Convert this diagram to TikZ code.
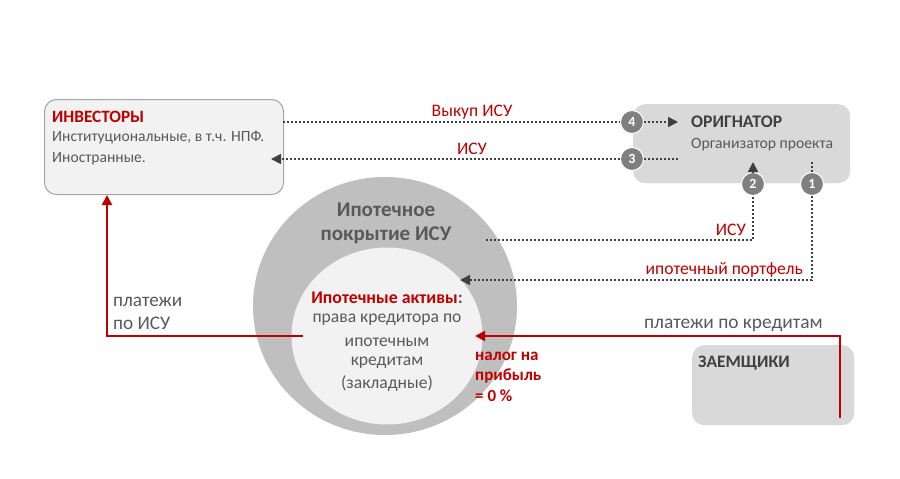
\documentclass[tikz,border=0pt]{standalone}
\usepackage{fontspec}
\setmainfont{Carlito}
\usetikzlibrary{arrows.meta,shapes.geometric}
\definecolor{myred}{HTML}{C00000}
\definecolor{dk}{HTML}{404040}
\definecolor{md}{HTML}{595959}
\definecolor{outerc}{HTML}{BFBFBF}
\definecolor{innerc}{HTML}{F2F2F2}
\definecolor{boxg}{HTML}{D9D9D9}
\definecolor{badgec}{HTML}{7F7F7F}
\newcommand{\fs}[1]{\fontsize{#1}{#1}\selectfont}
\begin{document}
\begin{tikzpicture}[x=1pt,y=-1pt,
  dots/.style={draw=dk,line width=1.6pt,dash pattern=on 2pt off 2pt},
  dtip/.style={-{Triangle[length=10pt,width=10pt]}},
  redl/.style={draw=myred,line width=2pt},
  rtip/.style={-{Triangle[length=10pt,width=10pt]}},
  badge/.style={circle,fill=badgec,draw=white,line width=1pt,minimum size=23pt,inner sep=0pt,text=white,font=\fs{14}\bfseries},
  tx/.style={inner sep=0pt,font=\fs{17.6}},
  txl/.style={tx,anchor=west},
]
\useasboundingbox[fill=white] (0,0) rectangle (900,479);

% boxes
\node[draw=black!35,fill=innerc,rounded corners=12pt,line width=1pt,minimum width=239pt,minimum height=95pt,anchor=north west,inner sep=0pt] (inv) at (44,99) {};
\node[fill=boxg,rounded corners=12pt,minimum width=217pt,minimum height=79pt,anchor=north west,inner sep=0pt] (orig) at (633,104) {};
\node[fill=boxg,rounded corners=12pt,minimum width=162pt,minimum height=80pt,anchor=north west,inner sep=0pt] (zaem) at (692,345) {};

% circles
\node[ellipse,fill=outerc,minimum width=264pt,minimum height=258pt,inner sep=0pt] (outer) at (385,306) {};
\node[ellipse,fill=innerc,minimum width=191pt,minimum height=177pt,inner sep=0pt] (inner) at (387,336) {};

% texts
\node[txl,text=myred,font=\fs{17.3}\bfseries] (invt) at (52,117) {ИНВЕСТОРЫ};
\node[txl,text=md,font=\fs{15.6}] (inv1) at (52,138) {Институциональные, в т.ч. НПФ.};
\node[txl,text=md,font=\fs{15.6}] (inv2) at (52,159) {Иностранные.};

\node[txl,text=dk,font=\fs{17.7}\bfseries] (origt) at (691,122) {ОРИГНАТОР};
\node[txl,text=md,font=\fs{15.7}] (orig1) at (691,145) {Организатор проекта};

\node[txl,text=dk,font=\fs{17.5}\bfseries] (zaemt) at (698,363) {ЗАЕМЩИКИ};

\node[tx,text=md,font=\fs{21}\bfseries] (cov1) at (386,210) {Ипотечное};
\node[tx,text=md,font=\fs{21}\bfseries] (cov2) at (386,235) {покрытие ИСУ};

\node[tx,font=\fs{17.8}\bfseries] (ia) at (387,298) {\textcolor{myred}{Ипотечные активы}\textcolor{md}{:}};
\node[tx,text=md] (ia1) at (387,320) {права кредитора по};
\node[tx,text=md] (ia2) at (387,342) {ипотечным};
\node[tx,text=md] (ia3) at (387,363) {кредитам};
\node[tx,text=md] (ia4) at (387,384) {(закладные)};

\node[txl,text=myred,font=\fs{17}\bfseries] (tax1) at (475,356) {налог на};
\node[txl,text=myred,font=\fs{17}\bfseries] (tax2) at (475,376) {прибыль};
\node[txl,text=myred,font=\fs{17}\bfseries] (tax3) at (475,396) {= 0 \%};

% badges
\node[badge] (b4) at (632,122) {4};
\node[badge] (b3) at (632,159) {3};
\node[badge] (b2) at (753,184) {2};
\node[badge] (b1) at (812,184) {1};

% coordinates
\coordinate (i4) at (283,122);
\coordinate (o4) at (678,122);
\coordinate (i3) at (271,159);
\coordinate (o3) at (678,159);
\coordinate (c2) at (486,240);
\coordinate (k2) at (753,240);
\coordinate (t2) at (753,162);
\coordinate (t1) at (812,162);
\coordinate (k1) at (812,280);
\coordinate (e1) at (460,280);

% dotted connectors
\draw[dots] (i4) -- (b4);
\draw[dots,dtip] (b4) -- (o4);
\node[tx,text=myred] (l4) at (472,112) {Выкуп ИСУ};
\draw[dots,dtip] (b3) -- (i3);
\draw[dots] (b3) -- (o3);
\node[tx,text=myred] (l3) at (472,149) {ИСУ};

\draw[dots] (c2) -- (k2) -- (b2);
\draw[dots,dtip] (b2) -- (t2);
\node[tx,anchor=east,text=myred] (l2) at (746,230) {ИСУ};

\draw[dots] (t1) -- (b1);
\draw[dots,dtip] (b1) -- (k1) -- (e1);
\node[tx,anchor=east,text=myred] (l1) at (803,270) {ипотечный портфель};

% red connectors
\coordinate (z1) at (840,418);
\coordinate (z2) at (840,336);
\coordinate (z3) at (475,336);
\draw[redl,rtip] (z1) -- (z2) -- (z3);
\node[tx,anchor=east,text=md,font=\fs{19.4}] (lz) at (823,325) {платежи по кредитам};

\coordinate (p1) at (303,336);
\coordinate (p2) at (107,336);
\draw[redl,rtip] (p1) -- (p2) -- (p2|-inv.south);
\node[txl,text=md,font=\fs{19.2}] (lp1) at (113,302) {платежи};
\node[txl,text=md,font=\fs{19.2}] (lp2) at (113,323) {по ИСУ};
\end{tikzpicture}
\end{document}
